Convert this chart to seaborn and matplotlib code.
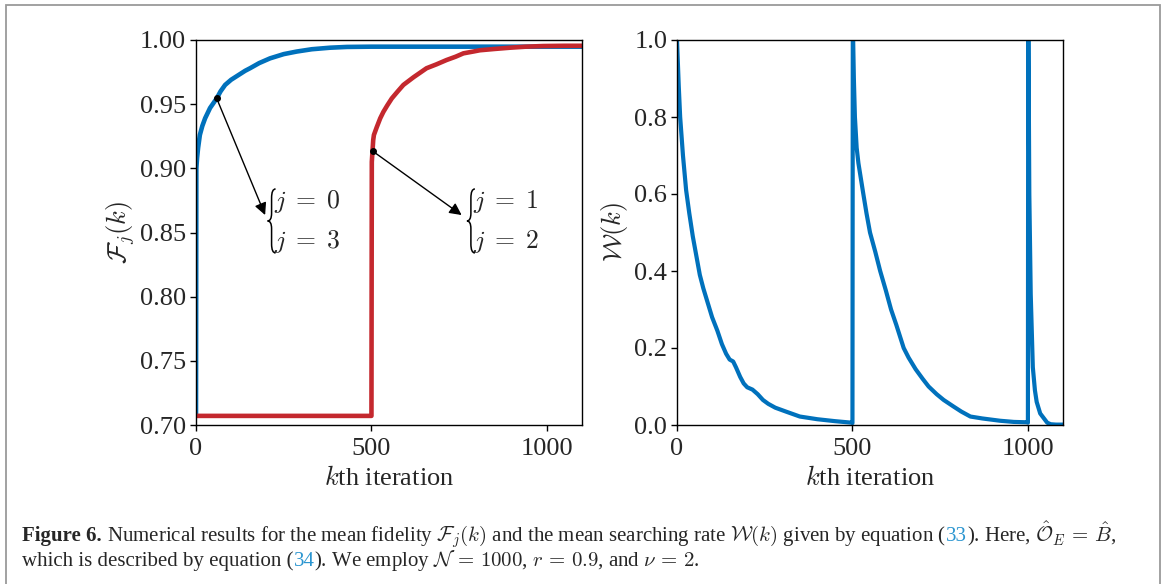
import numpy as np
import matplotlib
matplotlib.use('Agg')
import matplotlib.pyplot as plt
from matplotlib.patches import Rectangle, PathPatch
from matplotlib.path import Path
import seaborn as sns

# srednia wiernosc F_j(k), j = 0 i 3 (niebieska)
blue_k = [0, 1, 3, 6, 11, 18, 26, 40, 59, 70, 83, 100, 120, 140, 154, 180,
          211, 250, 287, 330, 382, 430, 500, 700, 900, 1100]
blue_f = [0.7071, 0.900, 0.908, 0.916, 0.926, 0.933, 0.939, 0.947, 0.9545, 0.960,
          0.965, 0.969, 0.9725, 0.976, 0.978, 0.982, 0.9857, 0.989, 0.991, 0.9928,
          0.994, 0.9946, 0.9948, 0.9948, 0.9948, 0.9948]

# j = 1 i 2 (czerwona)
red_k = [0, 500, 501, 503, 505, 507, 515, 525, 534, 545, 558, 575, 591, 620, 657,
         685, 714, 740, 762, 790, 809, 850, 895, 940, 989, 1050, 1100]
red_f = [0.7071, 0.7071, 0.905, 0.9135, 0.922, 0.926, 0.932, 0.939, 0.944, 0.949,
         0.9545, 0.960, 0.965, 0.971, 0.978, 0.981, 0.9844, 0.987, 0.9896, 0.991,
         0.992, 0.993, 0.994, 0.9948, 0.9953, 0.9955, 0.9955]

# sredni wspolczynnik W(k)
w_k = [0, 5, 9, 17, 26, 35, 45, 55, 65, 75, 85, 100, 115, 128, 140, 150, 160, 168,
       180, 190, 200, 215, 230, 245, 260, 280, 310, 350, 400, 450, 498, 500,
       501, 504, 507, 512, 517, 524, 531, 540, 550, 565, 579, 595, 610, 625, 646,
       660, 680, 700, 717, 740, 760, 788, 810, 836, 870, 921, 960, 998, 1000,
       1001, 1004, 1008, 1014, 1020, 1025, 1035, 1045, 1055, 1065, 1080, 1100]
w_v = [1.0, 0.88, 0.80, 0.70, 0.61, 0.55, 0.49, 0.44, 0.39, 0.355, 0.325, 0.28,
       0.245, 0.21, 0.185, 0.17, 0.165, 0.15, 0.125, 0.108, 0.098, 0.092, 0.08,
       0.065, 0.055, 0.045, 0.035, 0.022, 0.015, 0.01, 0.006, 0.005,
       1.05, 0.90, 0.80, 0.72, 0.68, 0.64, 0.60, 0.55, 0.50, 0.45, 0.40, 0.35,
       0.30, 0.26, 0.20, 0.175, 0.145, 0.12, 0.10, 0.08, 0.065, 0.048, 0.035,
       0.022, 0.017, 0.011, 0.008, 0.007, 0.006,
       1.1, 0.60, 0.34, 0.15, 0.09, 0.06, 0.03, 0.018, 0.006, 0.002, 0.001, 0.001]

f_ticks = [0.70, 0.75, 0.80, 0.85, 0.90, 0.95, 1.00]
w_ticks = [0.0, 0.2, 0.4, 0.6, 0.8, 1.0]
k_ticks = [0, 500, 1000]

BLUE = '#0071bc'
RED = '#c4282e'
LINK = '#2a95d0'

sns.set_style('ticks')
plt.rcParams['font.family'] = ['Liberation Serif', 'DejaVu Serif']
plt.rcParams['mathtext.fontset'] = 'cm'
plt.rcParams['xtick.direction'] = 'out'
plt.rcParams['ytick.direction'] = 'out'

W, H = 1165, 584
fig = plt.figure(figsize=(W / 100, H / 100), dpi=100)

ax1 = fig.add_axes([196 / W, 159 / H, 386 / W, 385 / H])
ax2 = fig.add_axes([677 / W, 159 / H, 386 / W, 385 / H])

sns.lineplot(x=blue_k, y=blue_f, ax=ax1, color=BLUE, linewidth=3.3,
             estimator=None, sort=False)
sns.lineplot(x=red_k, y=red_f, ax=ax1, color=RED, linewidth=3.3,
             estimator=None, sort=False)
sns.lineplot(x=w_k, y=w_v, ax=ax2, color=BLUE, linewidth=3.0,
             estimator=None, sort=False)

for ax in (ax1, ax2):
    ax.set_xlim(0, 1100)
    ax.set_xticks(k_ticks)
    ax.set_xticklabels([str(t) for t in k_ticks])
    ax.tick_params(labelsize=19, length=4, width=1, color='k')
    ax.tick_params(axis='x', pad=5.5)
    ax.tick_params(axis='y', pad=3)
    for s in ax.spines.values():
        s.set_color('k')
        s.set_linewidth(1.0)
    ax.set_xlabel(r'$k$th iteration', fontsize=19, labelpad=4)

ax1.set_ylim(0.70, 1.00)
ax1.set_yticks(f_ticks)
ax1.set_yticklabels(['%.2f' % t for t in f_ticks])
ax1.set_ylabel(r'$\mathcal{F}_j(k)$', fontsize=19, labelpad=2)

ax2.set_ylim(0.0, 1.0)
ax2.set_yticks(w_ticks)
ax2.set_yticklabels(['%.1f' % t for t in w_ticks])
ax2.set_ylabel(r'$\mathcal{W}(k)$', fontsize=19, labelpad=3)


def brace(ax, xd, yd, h=64, w=8):
    # lewa klamra w pikselach, zaczepiona w punkcie danych (xd, yd)
    x, yc = ax.transData.transform((xd, yd))
    xm = x + w / 2
    yt, yb = yc + h / 2, yc - h / 2
    verts = [(x + w, yt), (xm, yt), (xm, yt - 0.14 * h),
             (xm, yc + 0.12 * h), (xm, yc), (x, yc),
             (xm, yc), (xm, yc - 0.12 * h),
             (xm, yb + 0.14 * h), (xm, yb), (x + w, yb)]
    codes = [Path.MOVETO, Path.CURVE3, Path.CURVE3,
             Path.LINETO, Path.CURVE3, Path.CURVE3,
             Path.CURVE3, Path.CURVE3,
             Path.LINETO, Path.CURVE3, Path.CURVE3]
    fig.patches.append(PathPatch(Path(verts, codes), transform=None, fill=False,
                                 edgecolor='k', linewidth=1.1))


# adnotacje
bi = blue_k.index(59)
ri = red_k.index(503)
ax1.plot(blue_k[bi], blue_f[bi], 'o', color='k', ms=4, zorder=5)
ax1.plot(red_k[ri], red_f[ri], 'o', color='k', ms=4, zorder=5)
ax1.annotate('', xy=(197, 0.8636), xytext=(blue_k[bi], blue_f[bi]),
             arrowprops=dict(arrowstyle='-|>', color='k', lw=1, mutation_scale=18,
                             shrinkA=0, shrinkB=0))
ax1.annotate('', xy=(757, 0.8636), xytext=(red_k[ri], red_f[ri]),
             arrowprops=dict(arrowstyle='-|>', color='k', lw=1, mutation_scale=18,
                             shrinkA=0, shrinkB=0))
brace(ax1, 204, 0.859)
brace(ax1, 772, 0.859)
for kx, labs in ((222, ('0', '3')), (790, ('1', '2'))):
    ax1.text(kx, 0.8738, r'$j\;=\;%s$' % labs[0], fontsize=18.5, ha='left', va='center')
    ax1.text(kx, 0.8427, r'$j\;=\;%s$' % labs[1], fontsize=18.5, ha='left', va='center')

# ramka
fig.patches.append(Rectangle((6 / W, -0.02), (1160 - 6) / W, (584 - 5) / H + 0.02,
                             transform=fig.transFigure, fill=False,
                             edgecolor='#9a9a9a', linewidth=1.3))

# podpis
renderer = fig.canvas.get_renderer()


def place(pieces, x0, y, size):
    x = x0
    made = []
    for txt, kw in pieces:
        t = fig.text(x / W, 1 - y / H, txt, fontsize=size, va='baseline', **kw)
        made.append(t)
        x = t.get_window_extent(renderer).x1
    return x, made


line1 = [
    ('Figure 6.', dict(fontweight='bold')),
    (r' Numerical results for the mean fidelity $\mathcal{F}_j(k)$ and the mean searching rate '
     r'$\mathcal{W}(k)$ given by equation (', {}),
    ('33', dict(color=LINK)),
    (r'). Here, $\hat{\mathcal{O}}_E\,=\,\hat{B}$,', {}),
]
line2 = [
    ('which is described by equation (', {}),
    ('34', dict(color=LINK)),
    (r'). We employ $\mathcal{N}\,=\,1000$, $r\,=\,0.9$, and $\nu\,=\,2$.', {}),
]
x_end, tmp = place(line1, 22, 541, 12)
for t in tmp:
    t.remove()
cap_size = 12 * (1113 - 22) / (x_end - 22)
place(line1, 22, 541, cap_size)
place(line2, 22, 566, cap_size)

fig.savefig('out.png', dpi=100)
